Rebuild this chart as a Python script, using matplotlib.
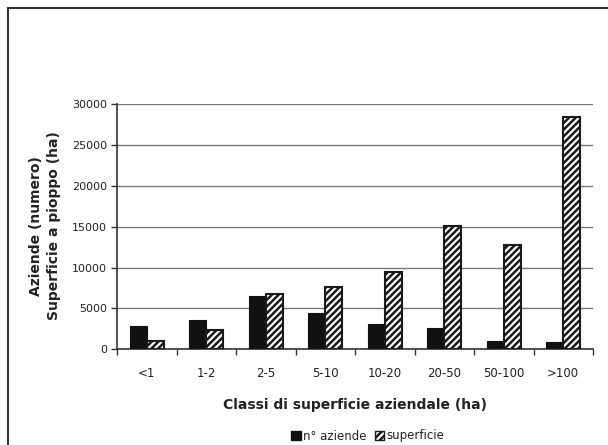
import matplotlib
matplotlib.use("Agg")
import matplotlib.pyplot as plt
import numpy as np
from matplotlib.patches import Patch
from matplotlib.lines import Line2D

categories = ["<1", "1-2", "2-5", "5-10", "10-20", "20-50", "50-100", ">100"]
n_aziende = [2900, 3600, 6500, 4400, 3100, 2600, 1000, 900]
superficie = [1000, 2300, 6800, 7600, 9400, 15100, 12800, 28400]
y_ticks = [0, 5000, 10000, 15000, 20000, 25000, 30000]

W, H = 608, 445
plt.rcParams["font.family"] = ["DejaVu Sans"]
plt.rcParams["hatch.linewidth"] = 1.8
plt.rcParams["hatch.color"] = "#1a1a1a"

fig = plt.figure(figsize=(W / 100, H / 100), dpi=100)
fig.patch.set_facecolor("white")

# outer frame (left and top edges visible)
fig.add_artist(Line2D([8 / W, 8 / W], [0, 1 - 8 / H], color="#333333", lw=1.5,
                      transform=fig.transFigure))
fig.add_artist(Line2D([8 / W, 1], [1 - 8 / H, 1 - 8 / H], color="#333333", lw=1.5,
                      transform=fig.transFigure))

left, right, bottom, top = 117, 593, 349.3, 104
ax = fig.add_axes([left / W, 1 - bottom / H, (right - left) / W, (bottom - top) / H])

x = np.arange(len(categories))
w = 1 / 3.5
ax.bar(x - w / 2, n_aziende, width=w, color="#111111", edgecolor="#111111",
       linewidth=0.8, zorder=3, label="n° aziende")
ax.bar(x + w / 2, superficie, width=w, color="white", edgecolor="#1a1a1a",
       hatch="/////", linewidth=1.5, zorder=3, label="superficie")

ax.set_xlim(-0.5, len(categories) - 0.5)
ax.set_ylim(0, 30000)
ax.set_yticks(y_ticks)
ax.set_yticklabels([str(v) for v in y_ticks], fontsize=8, color="#222222")
ax.set_xticks(x)
ax.set_xticklabels(categories, fontsize=8.5, color="#222222")
ax.set_xticks(np.arange(len(categories) + 1) - 0.5, minor=True)
ax.tick_params(axis="x", which="major", length=0, pad=13)
ax.tick_params(axis="x", which="minor", length=4, color="#333333", width=1)
ax.tick_params(axis="y", length=4, color="#333333", width=1, pad=3)

ax.yaxis.grid(True, color="#777777", linewidth=1, zorder=0)
ax.set_axisbelow(True)
for s in ["top", "right"]:
    ax.spines[s].set_visible(False)
for s in ["left", "bottom"]:
    ax.spines[s].set_color("#333333")
    ax.spines[s].set_linewidth(1.2)

fig.text(0.5 * (left + right) / W, 1 - 405 / H, "Classi di superficie aziendale (ha)",
         ha="center", va="center", fontsize=10, fontweight="bold", color="#222222")
fig.text(45 / W, 1 - 226 / H, "Aziende (numero)\nSuperficie a pioppo (ha)",
         ha="center", va="center", rotation=90, fontsize=10, fontweight="bold",
         color="#222222", multialignment="center", linespacing=1.3)

handles = [Patch(facecolor="#111111", edgecolor="#111111"),
           Patch(facecolor="white", edgecolor="#1a1a1a", hatch="/////")]
fig.legend(handles, ["n° aziende", "superficie"], loc="center",
           bbox_to_anchor=(368 / W, 1 - 436 / H), ncol=2, frameon=False,
           fontsize=8.5, handlelength=0.8, handleheight=0.8, handletextpad=0.2,
           columnspacing=0.7, labelcolor="#222222")

fig.savefig("out.png", dpi=100, facecolor="white")
